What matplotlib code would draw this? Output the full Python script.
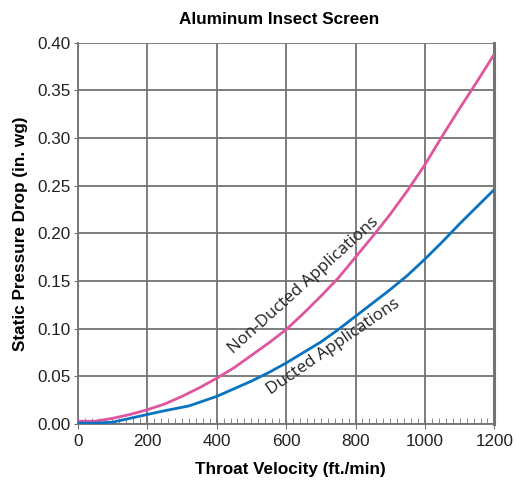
import matplotlib.pyplot as plt
from matplotlib.ticker import MultipleLocator

# values
velocity = [0, 50, 100, 150, 200, 250, 300, 350, 400, 450, 500, 550, 600,
            650, 700, 750, 800, 850, 900, 950, 1000, 1050, 1100, 1150, 1200]
non_ducted = [0.003, 0.003, 0.006, 0.010, 0.015, 0.021, 0.029, 0.038, 0.048, 0.059, 0.072, 0.085, 0.099,
              0.116, 0.134, 0.153, 0.175, 0.197, 0.220, 0.245, 0.272, 0.302, 0.331, 0.359, 0.388]

ducted_velocity = [0, 50, 100, 150, 200, 250, 320, 400, 450, 500, 550, 600,
                   650, 700, 750, 800, 850, 900, 950, 1000, 1050, 1100, 1150, 1200]
ducted = [0.001, 0.001, 0.002, 0.006, 0.010, 0.014, 0.019, 0.029, 0.037, 0.045, 0.054, 0.064,
          0.075, 0.086, 0.099, 0.113, 0.127, 0.141, 0.156, 0.173, 0.191, 0.210, 0.228, 0.246]

x_ticks = [0, 200, 400, 600, 800, 1000, 1200]
y_ticks = [0.00, 0.05, 0.10, 0.15, 0.20, 0.25, 0.30, 0.35, 0.40]

plt.rcParams['font.family'] = ['Liberation Sans', 'DejaVu Sans']

fig = plt.figure(figsize=(5.15, 4.83), dpi=100)
ax = fig.add_axes([0.151, 0.122, 0.809, 0.790])

ax.plot(velocity, non_ducted, color="#e0559f", lw=2, zorder=3)
ax.plot(ducted_velocity, ducted, color="#0a73c0", lw=2, zorder=3)

ax.set_xlim(0, 1200)
ax.set_ylim(0, 0.40)
ax.set_xticks(x_ticks)
ax.set_yticks(y_ticks)
ax.set_yticklabels(["%.2f" % v for v in y_ticks])
ax.xaxis.set_minor_locator(MultipleLocator(20))

ax.grid(True, which="major", color="#737373", lw=1.3)
ax.set_axisbelow(True)

for side in ["left", "bottom"]:
    ax.spines[side].set_color("#737373")
    ax.spines[side].set_linewidth(1.3)
ax.spines["right"].set_color("#737373")
ax.spines["right"].set_linewidth(2.2)
ax.spines["top"].set_visible(False)

ax.tick_params(axis="x", which="major", direction="inout", length=7, color="#737373",
               labelsize=12.3, pad=4, labelcolor="#222222")
ax.tick_params(axis="x", which="minor", direction="in", length=4, color="#737373")
ax.tick_params(axis="y", which="major", direction="out", length=3, color="#737373",
               labelsize=12.3, pad=2, labelcolor="#222222")

ax.set_title("Aluminum Insect Screen", fontsize=12.3, fontweight="bold", pad=13, x=0.484)
ax.set_xlabel("Throat Velocity (ft./min)", fontsize=12.3, fontweight="bold", labelpad=9, x=0.511)
ax.set_ylabel("Static Pressure Drop (in. wg)", fontsize=12.3, fontweight="bold", labelpad=7)

ax.text(650, 0.145, "Non-Ducted Applications", rotation=42, rotation_mode="anchor",
        ha="center", va="center", fontsize=12.2, family=["Open Sans", "DejaVu Sans"], color="#222222")
ax.text(735, 0.081, "Ducted Applications", rotation=34.5, rotation_mode="anchor",
        ha="center", va="center", fontsize=12.2, family=["Open Sans", "DejaVu Sans"], color="#222222")

fig.savefig("out.png", dpi=100)
